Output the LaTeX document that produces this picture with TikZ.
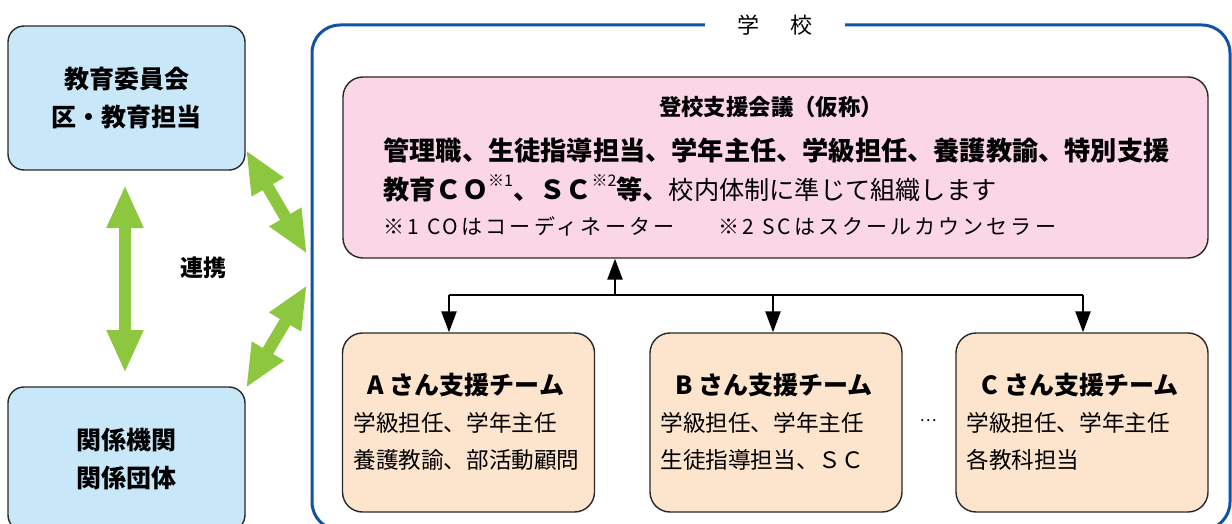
\documentclass[tikz,border=0pt]{standalone}
\usepackage{fontspec}
\newfontfamily\jp{Noto Sans CJK JP}
\usetikzlibrary{arrows.meta}
\definecolor{boxblue}{RGB}{200,232,250}
\definecolor{boxpink}{RGB}{250,214,230}
\definecolor{boxpeach}{RGB}{253,228,205}
\definecolor{grn}{RGB}{141,198,63}
\definecolor{frameblue}{RGB}{16,82,164}
\definecolor{edge}{RGB}{40,40,40}
\tikzset{
  bluebox/.style={draw=edge, line width=0.7pt, fill=boxblue, rounded corners=8pt, inner sep=0pt,
    minimum width=118.5pt, minimum height=72pt, align=center,
    font=\jp\bfseries\fontsize{12.5}{19}\selectfont},
  pinkbox/.style={draw=edge, line width=0.7pt, fill=boxpink, rounded corners=10pt, inner sep=0pt,
    minimum width=432.5pt, minimum height=90.5pt},
  teambox/.style={draw=edge, line width=0.7pt, fill=boxpeach, rounded corners=10pt, inner sep=0pt,
    minimum width=126pt, minimum height=89.5pt},
  schoolframe/.style={draw=frameblue, line width=1.5pt, rounded corners=14pt, inner sep=0pt,
    minimum width=459pt, minimum height=252.5pt},
  grnarrow/.style={draw=grn, line width=6pt, {Triangle[length=21.5pt,width=17pt]}-{Triangle[length=21.5pt,width=17pt]}},
  blkline/.style={draw=black, line width=1.2pt},
  blkarrow/.style={blkline, -{Triangle[length=10.5pt,width=7.5pt]}},
  teamtitle/.style={font=\jp\bfseries\fontsize{12.5}{15}\selectfont, inner sep=0pt},
  teamtext/.style={font=\jp\fontsize{11.3}{14}\selectfont, inner sep=0pt, anchor=west},
}
\newcommand{\supmark}[1]{\raisebox{0.5em}{\fontsize{8}{9}\selectfont\mdseries #1}}
\begin{document}
\begin{tikzpicture}[x=0.5pt,y=-0.5pt]
\useasboundingbox (0,0) rectangle (1232,524);

% left boxes
\node[bluebox] (edu) at (126.5,98) {教育委員会\\区・教育担当};
\node[bluebox] (rel) at (126.5,459) {関係機関\\関係団体};
\node[font=\jp\bfseries\fontsize{11.5}{14}\selectfont, inner sep=0pt] (renkei) at (203,268) {連携};

% school frame
\node[schoolframe] (school) at (771,277.5) {};
\node[fill=white, minimum width=70pt, inner sep=2pt, font=\jp\fontsize{11}{13}\selectfont] (schooltitle) at (775,25) {学\hspace{16pt}校};

% green arrows
\coordinate (v1) at (125,185);
\coordinate (v2) at (125,373);
\draw[grnarrow] (v1) -- (v2);
\coordinate (d1a) at (246,150);
\coordinate (d1b) at (307,254);
\draw[grnarrow] (d1a) -- (d1b);
\coordinate (d2a) at (307,285);
\coordinate (d2b) at (246,388);
\draw[grnarrow] (d2a) -- (d2b);

% conference box
\node[pinkbox] (conf) at (775.5,167.5) {};
\node[font=\jp\bfseries\fontsize{11.2}{13}\selectfont, inner sep=0pt] (conftitle) at (771,107) {登校支援会議（仮称）};
\node[font=\jp\bfseries\fontsize{13.1}{15}\selectfont, inner sep=0pt, anchor=west] (confl2) at (383,150) {管理職、生徒指導担当、学年主任、学級担任、養護教諭、特別支援};
\node[font=\jp\bfseries\fontsize{13.1}{15}\selectfont, inner sep=0pt, anchor=west] (confl3) at (383,188)
  {教育ＣＯ\supmark{※1}、ＳＣ\supmark{※2}等、{\mdseries\fontsize{12.6}{15}\selectfont 校内体制に準じて組織します}};
\node[font=\jp\fontsize{10.5}{12}\selectfont\addfontfeature{LetterSpace=15}, inner sep=0pt, anchor=west] (confnote) at (383,226)
  {※1 COはコーディネーター\hspace{22pt}※2 SCはスクールカウンセラー};

% team boxes
\node[teambox] (ta) at (468.5,422.5) {};
\node[teambox] (tb) at (776,422.5) {};
\node[teambox] (tc) at (1082,422.5) {};

\node[teamtitle] (tat) at (466,385) {A さん支援チーム};
\node[teamtext] (ta1) at (353,423) {学級担任、学年主任};
\node[teamtext] (ta2) at (353,460) {養護教諭、部活動顧問};

\node[teamtitle] (tbt) at (774,385) {B さん支援チーム};
\node[teamtext] (tb1) at (660,423) {学級担任、学年主任};
\node[teamtext] (tb2) at (660,460) {生徒指導担当、ＳＣ};

\node[teamtitle] (tct) at (1080,385) {C さん支援チーム};
\node[teamtext] (tc1) at (966,423) {学級担任、学年主任};
\node[teamtext] (tc2) at (966,460) {各教科担当};

\node[font=\jp\fontsize{8}{10}\selectfont, inner sep=0pt] (dots) at (928,421) {…};

% black connectors
\coordinate (hub) at (615,295);
\coordinate (ha) at (449,295);
\coordinate (hb) at (773,295);
\coordinate (hc) at (1083,295);
\draw[blkarrow] (hub) -- (hub |- conf.south);
\draw[blkline] (ha) -- (hc);
\draw[blkarrow] (ha) -- (ha |- ta.north);
\draw[blkarrow] (hb) -- (hb |- tb.north);
\draw[blkarrow] (hc) -- (hc |- tc.north);
\end{tikzpicture}
\end{document}
